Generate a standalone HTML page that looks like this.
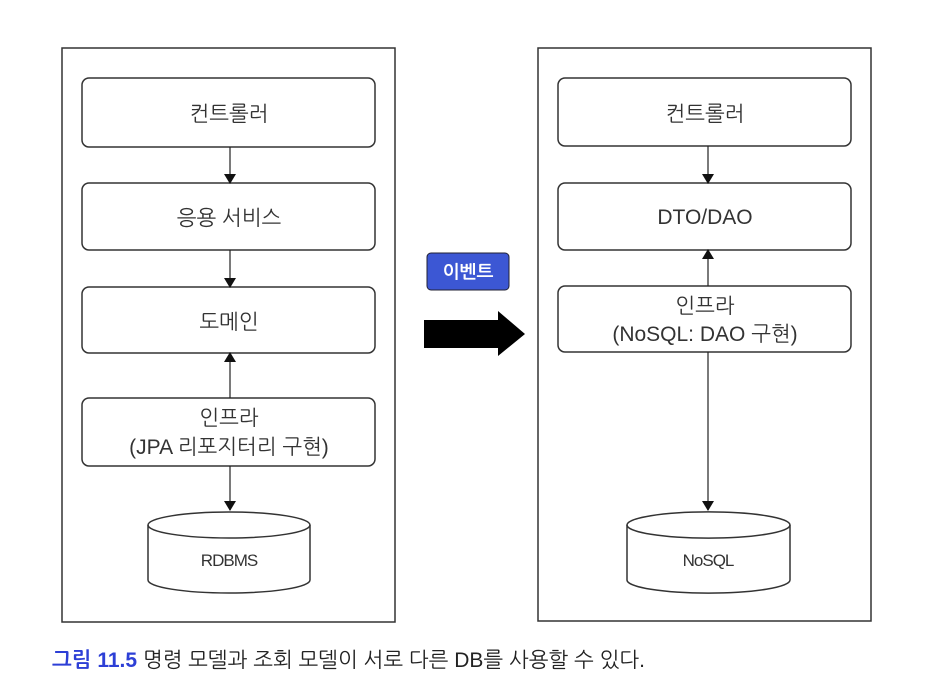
<!DOCTYPE html>
<html><head><meta charset="utf-8"><style>
body{margin:0;background:#fff;}
svg{display:block;font-family:"Liberation Sans","NanumGothic","Noto Sans CJK KR",sans-serif;}
</style></head><body>
<svg width="948" height="700" viewBox="0 0 948 700" xmlns="http://www.w3.org/2000/svg">
<defs>
<marker id="ah" markerWidth="10" markerHeight="12" refX="9" refY="6" orient="auto" markerUnits="userSpaceOnUse">
<path d="M0,0 L10,6 L0,12 Z" fill="#111"/></marker>
</defs>
<g fill="none" stroke="#333" stroke-width="1.5">
<rect x="62" y="48" width="333" height="574"/>
<rect x="538" y="48" width="333" height="573"/>
<rect x="82" y="78" width="293" height="69" rx="7"/>
<rect x="82" y="183" width="293" height="67" rx="7"/>
<rect x="82" y="287" width="293" height="66" rx="7"/>
<rect x="82" y="398" width="293" height="68" rx="7"/>
<rect x="558" y="78" width="293" height="68" rx="7"/>
<rect x="558" y="183" width="293" height="67" rx="7"/>
<rect x="558" y="286" width="293" height="66" rx="7"/>
<path d="M148,525 A81,13 0 0 1 310,525 L310,580 A81,13 0 0 1 148,580 Z"/>
<path d="M148,525 A81,13 0 0 0 310,525"/>
<path d="M627,525 A81,13 0 0 1 790,525 L790,580 A81,13 0 0 1 627,580 Z"/>
<path d="M627,525 A81,13 0 0 0 790,525"/>
<g stroke="#222" stroke-width="1.2" marker-end="url(#ah)">
<line x1="230" y1="147" x2="230" y2="183"/>
<line x1="230" y1="250" x2="230" y2="287"/>
<line x1="230" y1="398" x2="230" y2="353"/>
<line x1="230" y1="466" x2="230" y2="510"/>
<line x1="708" y1="146" x2="708" y2="183"/>
<line x1="708" y1="286" x2="708" y2="250"/>
<line x1="708" y1="352" x2="708" y2="510"/>
</g>
</g>
<rect x="427" y="253" width="82" height="37" rx="4" fill="#3c57d4" stroke="#223" stroke-width="1"/>
<text x="468" y="278" font-size="18" font-weight="bold" fill="#fff" text-anchor="middle">이벤트</text>
<path d="M424,320 L498,320 L498,311 L525,334 L498,356 L498,348 L424,348 Z" fill="#000"/>
<g font-size="21" fill="#333" text-anchor="middle">
<text x="229" y="121">컨트롤러</text>
<text x="229" y="225">응용 서비스</text>
<text x="229" y="329">도메인</text>
<text x="229" y="425">인프라</text>
<text x="229" y="454">(JPA 리포지터리 구현)</text>
<text x="705" y="224">DTO/DAO</text>
<text x="705" y="121">컨트롤러</text>
<text x="705" y="313">인프라</text>
<text x="705" y="341">(NoSQL: DAO 구현)</text>
<text x="229" y="566" font-size="17" letter-spacing="-1">RDBMS</text>
<text x="708" y="566" font-size="17" letter-spacing="-1">NoSQL</text>
</g>
<text x="52" y="667" font-size="21" fill="#222"><tspan fill="#2d3fd6" font-weight="bold">그림 11.5</tspan> 명령 모델과 조회 모델이 서로 다른 DB를 사용할 수 있다.</text>
</svg>
</body></html>
